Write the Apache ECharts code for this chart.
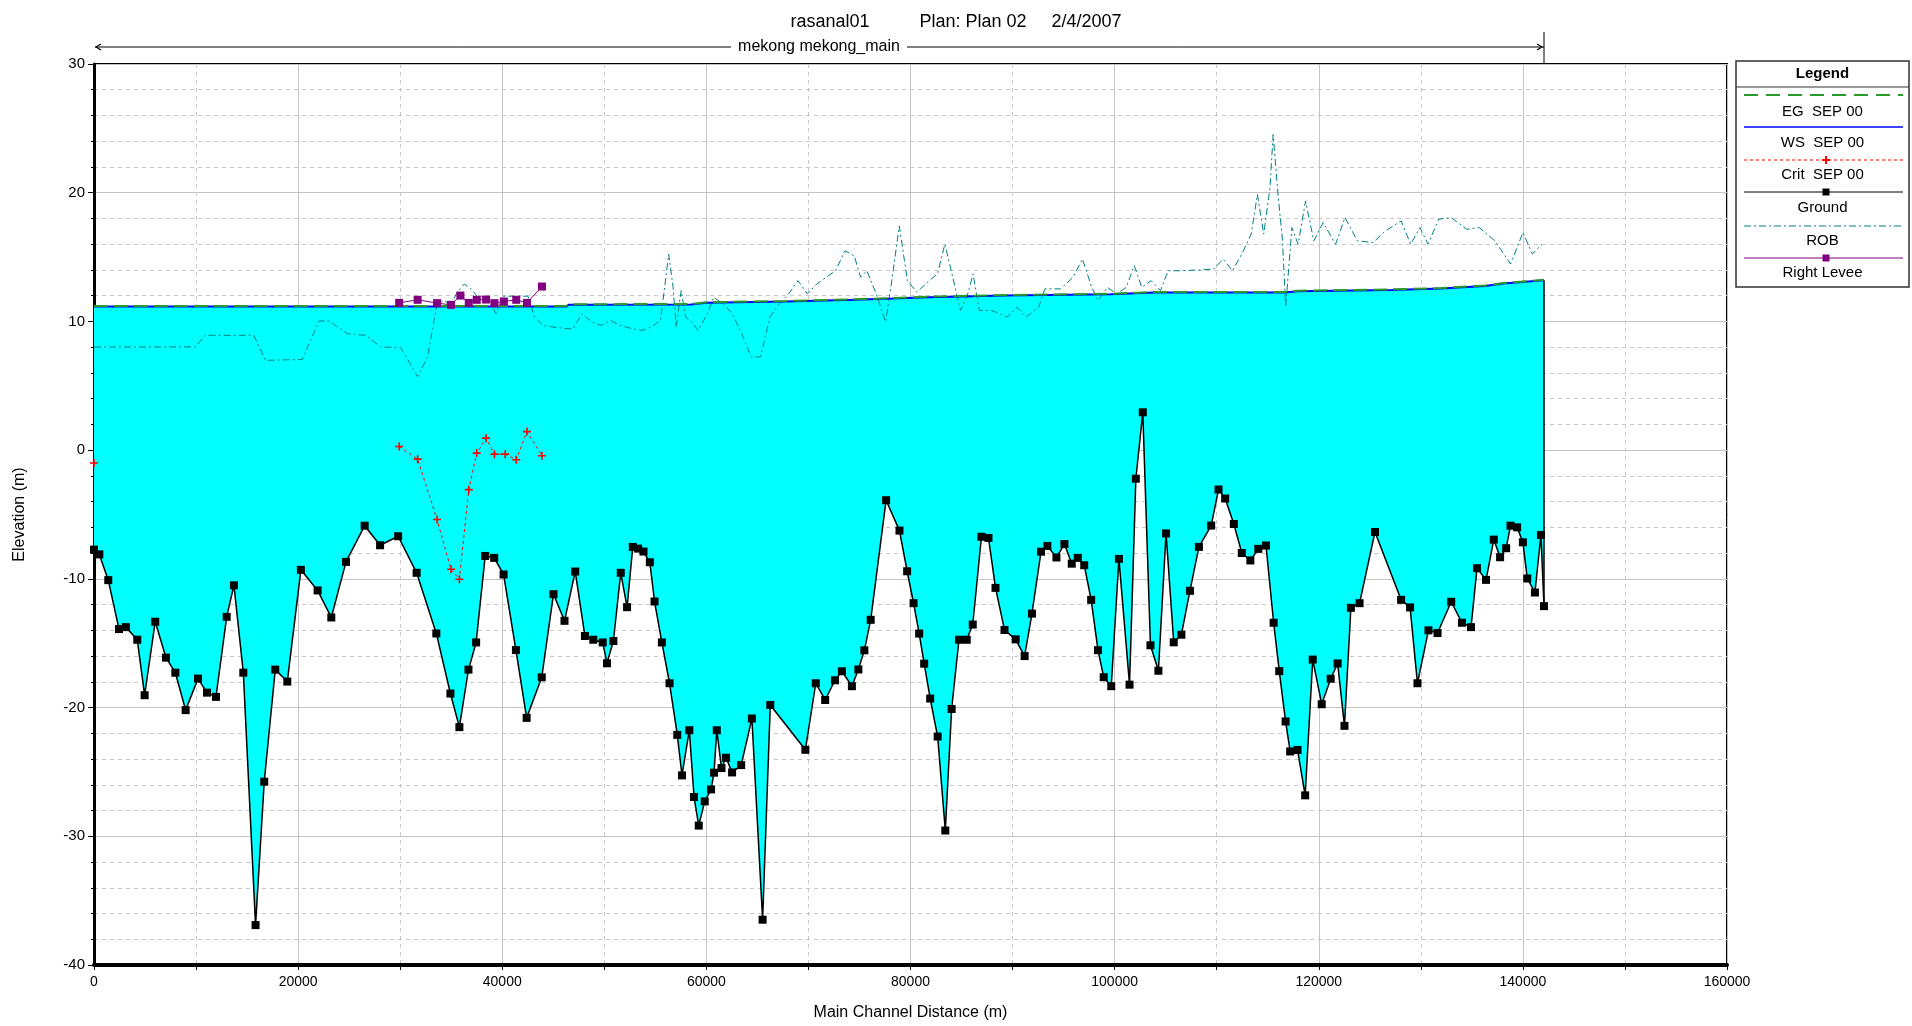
<!DOCTYPE html>
<html><head><meta charset="utf-8">
<script src="https://cdn.jsdelivr.net/npm/echarts@6/dist/echarts.min.js"></script>
<style>html,body{margin:0;padding:0;background:#fff}#c{width:1912px;height:1026px}</style>
</head><body><div id="c"></div>
<script>
// ---------- data ----------
const titleText = 'rasanal01          Plan: Plan 02     2/4/2007';
const reachName = 'mekong mekong_main';
const xTicks = [0, 20000, 40000, 60000, 80000, 100000, 120000, 140000, 160000];
const yTicks = [-40, -30, -20, -10, 0, 10, 20, 30];

const groundX = [0,520,1400,2450,3130,4240,4960,6000,7050,7970,8980,10190,11070,11950,13000,13710,14630,15830,16680,17760,18940,20270,21910,23250,24690,26520,28030,29800,31610,33540,34920,35800,36690,37440,38330,39210,40130,41340,42390,43870,45020,46100,47150,48100,48920,49840,50260,50890,51610,52230,52790,53310,53840,54460,54920,55640,56390,57150,57610,58330,58790,59250,59840,60460,60750,61020,61480,61930,62520,63410,64460,65510,66260,69700,70720,71640,72600,73280,74260,74890,75480,76100,77610,78920,79670,80300,80850,81340,81930,82660,83410,84030,84750,85510,86100,86950,87640,88330,89210,90300,91180,91900,92790,93410,94300,95080,95800,96390,97020,97700,98370,98930,99670,100420,101460,102080,102760,103510,104290,105040,105790,106540,107380,108260,109460,110180,110830,111680,112460,113300,114080,114830,115580,116130,116750,117200,117920,118670,119410,120290,121170,121850,122520,123150,124000,125510,128070,128950,129670,130750,131640,132980,134030,134920,135510,136390,137150,137770,138360,138790,139440,140000,140430,141180,141770,142070];
const groundY = [-7.73,-8.1,-10.1,-13.9,-13.75,-14.73,-19.04,-13.33,-16.12,-17.29,-20.2,-17.75,-18.84,-19.17,-12.95,-10.5,-17.29,-36.9,-25.76,-17.05,-17.98,-9.3,-10.9,-13.0,-8.68,-5.87,-7.39,-6.69,-9.53,-14.24,-18.91,-21.52,-17.05,-14.94,-8.22,-8.37,-9.66,-15.53,-20.8,-17.65,-11.19,-13.26,-9.43,-14.44,-14.73,-14.94,-16.56,-14.83,-9.53,-12.2,-7.52,-7.65,-7.88,-8.71,-11.76,-14.94,-18.11,-22.12,-25.27,-21.76,-26.95,-29.17,-27.29,-26.36,-25.06,-21.76,-24.7,-23.9,-25.04,-24.47,-20.85,-36.48,-19.8,-23.28,-18.11,-19.41,-17.88,-17.18,-18.34,-17.04,-15.55,-13.18,-3.89,-6.25,-9.41,-11.89,-14.25,-16.59,-19.3,-22.25,-29.55,-20.11,-14.73,-14.73,-13.55,-6.73,-6.82,-10.7,-13.97,-14.7,-16.0,-12.7,-7.89,-7.44,-8.34,-7.3,-8.82,-8.37,-8.94,-11.63,-15.54,-17.64,-18.34,-8.45,-18.22,-2.22,2.94,-15.16,-17.14,-6.47,-14.93,-14.34,-10.93,-7.52,-5.86,-3.06,-3.76,-5.74,-7.99,-8.57,-7.67,-7.41,-13.41,-17.17,-21.08,-23.41,-23.29,-26.82,-16.27,-19.74,-17.76,-16.57,-21.42,-12.25,-11.89,-6.36,-11.63,-12.22,-18.11,-14.0,-14.21,-11.78,-13.41,-13.75,-9.17,-10.08,-6.95,-8.32,-7.62,-5.87,-6.0,-7.16,-9.97,-11.06,-6.59,-12.12];

const wsX = [0,46300,46500,58500,60000,67800,74500,78200,81800,89200,99600,103900,116700,117900,127100,132000,136300,138100,142070];
const wsY = [11.16,11.16,11.29,11.32,11.45,11.55,11.68,11.78,11.88,12.01,12.11,12.24,12.24,12.35,12.45,12.55,12.76,12.94,13.2];
const egX = [0,46300,46500,58500,60000,67800,74500,78200,81800,89200,99600,103900,116700,117900,127100,132000,136300,138100,142070];
const egY = [11.2,11.2,11.33,11.36,11.49,11.59,11.72,11.82,11.92,12.05,12.15,12.28,12.28,12.39,12.49,12.59,12.8,12.98,13.24];

const critX = [0,15000,29900,31710,33610,34980,35800,36720,37500,38420,39240,40290,41370,42420,43890];
const critY = [-1.0,null,0.28,-0.7,-5.39,-9.25,-10.03,-3.07,-0.23,0.93,-0.31,-0.31,-0.75,1.44,-0.44];

const leveeX = [29900,31710,33610,34980,35900,36720,37500,38420,39240,40160,41370,42420,43890];
const leveeY = [11.44,11.68,11.42,11.29,12.01,11.44,11.68,11.7,11.42,11.55,11.68,11.44,12.71];

const robX = [0,9920,10900,15660,16800,20410,22040,23030,24830,26630,28100,30070,31710,32690,33610,34330,34980,35570,36290,36950,37600,38420,39400,40060,42520,43170,43990,45460,46940,47800,48780,49690,50610,51530,52760,53670,54590,55510,56310,56740,57040,57530,57960,58570,59190,60100,60720,61630,62550,63470,64390,65310,66230,67150,68060,68980,69900,70820,71740,72660,73580,74490,75110,75720,76640,77560,78170,78900,79700,80620,81840,82640,83370,83990,84900,85520,86130,86740,87970,89500,90420,91330,92560,93170,94700,95930,96850,97760,98380,99300,100210,101130,101930,102660,103580,104500,105240,106340,108180,109710,110630,111540,112460,113380,113990,114610,115220,115530,116010,116450,116760,117370,117980,118710,119510,120430,121650,122570,123790,125320,126550,128080,129000,129920,130710,131750,132970,134500,135730,137260,138790,140010,140930,141850];
const robY = [8.02,8.02,8.92,8.92,6.98,7.04,10.03,10.03,9.05,8.92,8.02,7.96,5.7,7.24,11.37,11.62,11.24,12.27,12.91,12.53,11.88,11.96,10.59,11.96,11.96,10.34,9.69,9.51,9.41,10.59,9.95,9.69,10.08,9.69,9.43,9.3,9.56,10.08,15.23,12.65,9.56,12.4,10.34,9.95,9.3,10.59,11.88,11.37,10.59,9.05,7.24,7.24,10.34,11.37,12.14,13.17,12.14,12.91,13.43,13.94,15.49,15.1,13.43,13.94,12.14,9.95,13.17,17.42,13.17,12.27,13.17,13.69,16.0,13.94,10.85,11.88,13.69,10.85,10.85,10.34,11.11,10.34,11.11,12.53,12.53,13.43,14.85,12.65,11.62,12.65,12.14,12.65,14.33,12.65,13.17,12.4,13.94,13.94,13.99,14.07,14.85,13.94,15.23,16.78,19.87,16.78,20.39,24.51,19.87,16.26,11.11,17.29,16.0,19.36,16.26,17.68,16.0,18.07,16.26,16.13,17.04,17.81,16.0,17.29,16.0,17.94,18.07,17.16,17.29,16.26,14.46,16.91,15.23,16.0];

const legendNames = ['EG  SEP 00', 'WS  SEP 00', 'Crit  SEP 00', 'Ground', 'ROB', 'Right Levee'];

// ---------- build ----------
const pair = (xs, ys) => xs.map((x, i) => [x, ys[i] === null ? '-' : ys[i]]);
const ground = pair(groundX, groundY);
const ws = pair(wsX, wsY);
const eg = pair(egX, egY);
const crit = pair(critX, critY);
const levee = pair(leveeX, leveeY);
const rob = pair(robX, robY);

const FONT = '"Liberation Sans", Arial, sans-serif';
const C = {eg:'#2a9a2a', ws:'#0000ff', crit:'#ff0000', ground:'#000000', rob:'#008080', levee:'#800080', water:'#00ffff'};
const PLUS = 'path://M4,0h2v4h4v2h-4v4h-2v-4h-4v-2h4z';

const chart = echarts.init(document.getElementById('c'), null, {renderer:'canvas'});

const option = {
  animation: false,
  backgroundColor: '#fff',
  title: {text: titleText, left: 'center', top: 8, textStyle: {fontFamily: FONT, fontSize: 18, fontWeight: 'normal', color: '#000'}},
  grid: {left: 94, right: 185, top: 64, bottom: 60, show: true, borderColor: '#000', borderWidth: 2, backgroundColor: 'transparent'},
  xAxis: {
    type: 'value', min: xTicks[0], max: xTicks[xTicks.length - 1], interval: 20000,
    axisLine: {onZero: false, lineStyle: {color: '#000', width: 4}},
    axisTick: {length: 5, lineStyle: {color: '#000'}},
    minorTick: {show: true, splitNumber: 2, length: 5, lineStyle: {color: '#000'}},
    splitLine: {lineStyle: {color: '#c4c4c4', width: 1}},
    minorSplitLine: {show: true, lineStyle: {color: '#c8c8c8', type: [4, 4]}},
    axisLabel: {color: '#000', fontFamily: FONT, fontSize: 14, margin: 10, formatter: v => String(v)},
    name: 'Main Channel Distance (m)', nameLocation: 'middle', nameGap: 40,
    nameTextStyle: {color: '#000', fontFamily: FONT, fontSize: 16}
  },
  yAxis: {
    type: 'value', min: yTicks[0], max: yTicks[yTicks.length - 1], interval: 10,
    axisLine: {onZero: false, lineStyle: {color: '#000', width: 3}},
    axisTick: {length: 6, lineStyle: {color: '#000'}},
    minorTick: {show: true, splitNumber: 5, length: 3, lineStyle: {color: '#000'}},
    splitLine: {lineStyle: {color: '#c4c4c4', width: 1}},
    minorSplitLine: {show: true, lineStyle: {color: '#c8c8c8', type: [4, 4]}},
    axisLabel: {color: '#000', fontFamily: FONT, fontSize: 15, margin: 9, formatter: v => String(v)},
    name: 'Elevation (m)', nameLocation: 'middle', nameGap: 66, nameRotate: 90,
    nameTextStyle: {color: '#000', fontFamily: FONT, fontSize: 16}
  },
  series: [
    {
      type: 'custom', z: 1, silent: true, clip: true, data: [[0, 0]],
      renderItem: (params, api) => {
        const top = ws.map(p => api.coord(p));
        const bot = ground.slice().reverse().map(p => api.coord(p));
        const a = top[top.length - 1], b = bot[0];
        return {type: 'group', children: [
          {type: 'polygon', shape: {points: top.concat(bot)}, style: {fill: C.water}},
          {type: 'line', shape: {x1: a[0], y1: a[1], x2: b[0], y2: b[1]}, style: {stroke: '#000', lineWidth: 1.5}}
        ]};
      }
    },
    {name: 'ROB', type: 'line', z: 3, data: rob, showSymbol: false, symbol: 'none',
      lineStyle: {color: C.rob, width: 1, type: [7, 3, 2, 3]}},
    {name: 'Ground', type: 'line', z: 5, data: ground, symbol: 'rect', symbolSize: 8,
      itemStyle: {color: C.ground}, lineStyle: {color: C.ground, width: 1.5}},
    {name: 'WS', type: 'line', z: 4, data: ws, symbol: 'none', lineStyle: {color: C.ws, width: 2}},
    {name: 'EG', type: 'line', z: 4, data: eg, symbol: 'none', lineStyle: {color: C.eg, width: 2, type: [14, 6]}},
    {name: 'Crit', type: 'line', z: 6, data: crit, connectNulls: false, symbol: PLUS, symbolSize: 8,
      itemStyle: {color: C.crit}, lineStyle: {color: C.crit, width: 1, type: [3, 3]}},
    {name: 'Right Levee', type: 'line', z: 6, data: levee, symbol: 'rect', symbolSize: 8,
      itemStyle: {color: C.levee}, lineStyle: {color: C.levee, width: 1}}
  ]
};
chart.setOption(option);

// ---------- reach annotation + legend (graphics) ----------
const px0 = chart.convertToPixel({xAxisIndex: 0}, groundX[0]);
const px1 = chart.convertToPixel({xAxisIndex: 0}, groundX[groundX.length - 1]);
const ry = 47;
const g = [];
g.push({type: 'line', shape: {x1: px0 + 1, y1: ry, x2: px1, y2: ry}, style: {stroke: '#000', lineWidth: 1}});
g.push({type: 'polyline', shape: {points: [[px0 + 7, ry - 3], [px0 + 2, ry], [px0 + 7, ry + 3]]}, style: {stroke: '#000', lineWidth: 1.2, fill: null}});
g.push({type: 'polyline', shape: {points: [[px1 - 7, ry - 3], [px1 - 2, ry], [px1 - 7, ry + 3]]}, style: {stroke: '#000', lineWidth: 1.2, fill: null}});
g.push({type: 'line', shape: {x1: px1, y1: 32, x2: px1, y2: 64}, style: {stroke: '#000', lineWidth: 1}});
g.push({type: 'text', x: (px0 + px1) / 2, y: ry, z: 10, style: {text: reachName, font: '16px ' + FONT, fill: '#000', align: 'center', verticalAlign: 'middle', backgroundColor: '#fff', padding: [0, 7]}});

// legend box
const LX = 1736, LY = 61, LW = 173, LH = 226, cx = LX + LW / 2;
g.push({type: 'rect', shape: {x: LX, y: LY, width: LW, height: LH}, style: {fill: '#fff', stroke: '#333', lineWidth: 1.5}});
g.push({type: 'line', shape: {x1: LX, y1: 87, x2: LX + LW, y2: 87}, style: {stroke: '#333', lineWidth: 1}});
g.push({type: 'text', x: cx, y: 74, style: {text: 'Legend', font: 'bold 15px ' + FONT, fill: '#000', align: 'center', verticalAlign: 'middle'}});
const lineYs = [95, 127, 160, 192, 226, 258];
const textYs = [112, 143, 175, 208, 241, 273];
const lstyles = [
  {stroke: C.eg, lineWidth: 2, lineDash: [14, 8]},
  {stroke: C.ws, lineWidth: 1.5},
  {stroke: C.crit, lineWidth: 1, lineDash: [3, 3]},
  {stroke: C.ground, lineWidth: 1},
  {stroke: C.rob, lineWidth: 1, lineDash: [7, 3, 2, 3]},
  {stroke: C.levee, lineWidth: 1}
];
legendNames.forEach((n, i) => {
  g.push({type: 'line', shape: {x1: LX + 8, y1: lineYs[i], x2: LX + LW - 6, y2: lineYs[i]}, style: lstyles[i]});
  g.push({type: 'text', x: cx, y: textYs[i], style: {text: n, font: '15px ' + FONT, fill: '#000', align: 'center', verticalAlign: 'middle'}});
});
const mx = 1826;
g.push({type: 'polygon', shape: {points: [[mx-1,lineYs[2]-4],[mx+1,lineYs[2]-4],[mx+1,lineYs[2]-1],[mx+4,lineYs[2]-1],[mx+4,lineYs[2]+1],[mx+1,lineYs[2]+1],[mx+1,lineYs[2]+4],[mx-1,lineYs[2]+4],[mx-1,lineYs[2]+1],[mx-4,lineYs[2]+1],[mx-4,lineYs[2]-1],[mx-1,lineYs[2]-1]]}, style: {fill: C.crit}});
g.push({type: 'rect', shape: {x: mx - 3.5, y: lineYs[3] - 3.5, width: 7, height: 7}, style: {fill: C.ground}});
g.push({type: 'rect', shape: {x: mx - 3.5, y: lineYs[5] - 3.5, width: 7, height: 7}, style: {fill: C.levee}});

chart.setOption({graphic: {elements: g}});
</script>
</body></html>
